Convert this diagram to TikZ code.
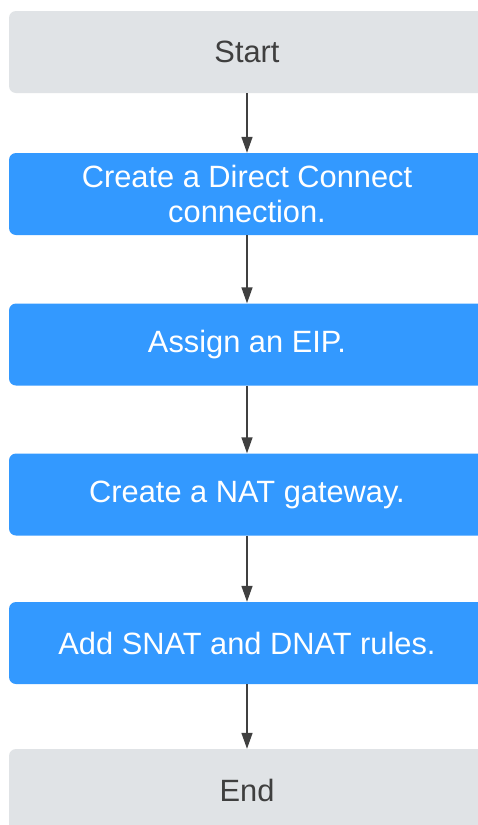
\documentclass[tikz,border=0pt]{standalone}
\usepackage{fontspec}
\setmainfont{Liberation Sans}
\usetikzlibrary{arrows.meta}
\definecolor{boxgray}{HTML}{E0E3E6}
\definecolor{boxblue}{HTML}{3399FF}
\definecolor{txtgray}{HTML}{3F3F3F}
\definecolor{arrowgray}{HTML}{404040}
\tikzset{
  base/.style={rectangle, rounded corners=7pt, minimum width=476pt, minimum height=82pt,
    inner sep=0pt, align=center, font=\fontsize{30.8}{35}\selectfont},
  endbox/.style={base, fill=boxgray, text=txtgray},
  stepbox/.style={base, fill=boxblue, text=white},
  conn/.style={draw=arrowgray, line width=1.5pt, -{Triangle[length=16pt,width=11pt]}}
}
\begin{document}
\begin{tikzpicture}[x=1pt,y=-1pt]
\useasboundingbox (0,0) rectangle (478,825);
\clip (0,0) rectangle (478,825);
\fill[white] (0,0) rectangle (478,825);
\node[endbox] (start) at (247,52) {Start};
\node[stepbox] (dc) at (247,194) {Create a Direct Connect\\connection.};
\node[stepbox] (eip) at (247,344.5) {Assign an EIP.};
\node[stepbox] (nat) at (247,494.5) {Create a NAT gateway.};
\node[stepbox] (rules) at (247,643) {Add SNAT and DNAT rules.};
\node[endbox] (end) at (247,790) {End};
\draw[conn] (start) -- (dc);
\draw[conn] (dc) -- (eip);
\draw[conn] (eip) -- (nat);
\draw[conn] (nat) -- (rules);
\draw[conn] (rules) -- (end);
\end{tikzpicture}
\end{document}
